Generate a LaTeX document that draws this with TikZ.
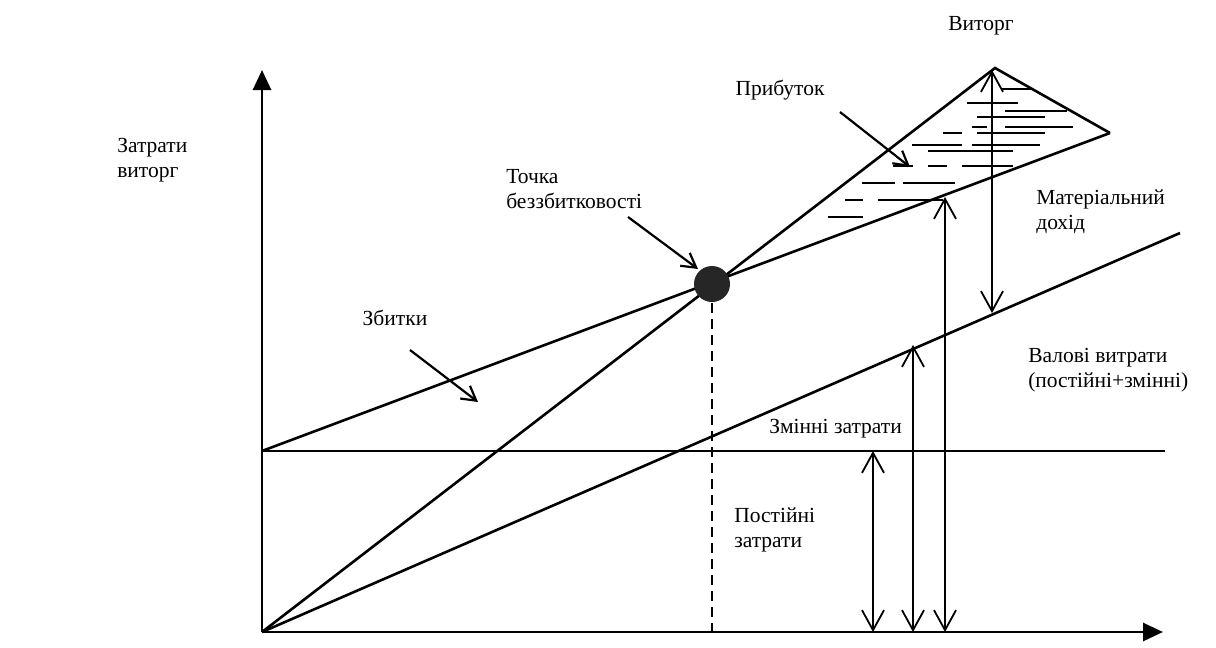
\documentclass[tikz,border=0pt]{standalone}
\usepackage{fontspec}
\setmainfont{Liberation Serif}
\usetikzlibrary{arrows.meta}

\begin{document}
\begin{tikzpicture}[x=1pt, y=-1pt, line width=2.6pt, font=\fontsize{21.5}{25}\selectfont,
    axisline/.style={line width=2.8pt, -{Triangle[length=20pt,width=18pt]}},
    dimarrow/.style={line width=1.8pt, {Straight Barb[length=20pt,width=22pt]}-{Straight Barb[length=20pt,width=22pt]}},
    pointer/.style={line width=2.2pt, -{Straight Barb[length=14pt,width=16pt]}},
    hatch/.style={line width=2pt},
    lbl/.style={align=left, inner sep=0pt}]
    \useasboundingbox (0,0) rectangle (1216,648);
    % points of the chart
    \coordinate (O) at (262,632);
    \coordinate (ytop) at (262,70);
    \coordinate (xend) at (1163,632);
    \coordinate (F) at (262,451);
    \coordinate (Fend) at (1165,451);
    \coordinate (B) at (712,284);
    \coordinate (apex) at (995,68);
    \coordinate (R) at (1110,133);
    \coordinate (V) at (1180,233);
    % hatching of the profit area
    \foreach \y/\a/\b in {89/1002/1033, 103/967/1018, 111/1005/1067, 117/977/1045,
            127/972/987, 127/1005/1073, 133/943/962, 133/977/1045, 145/912/962,
            145/972/1040, 151/928/1013, 166/893/913, 166/928/947, 166/962/1013,
            183/862/895, 183/903/955, 200/845/863, 200/878/943, 217/828/863} {
        \draw[hatch] (\a,\y) -- (\b,\y);
    }
    % axes
    \draw[axisline] (O) -- (ytop);
    \draw[axisline] (O) -- (xend);
    % lines
    \draw (F) -- (Fend);
    \draw (O) -- (apex) -- (R);
    \draw (F) -- (R);
    \draw (O) -- (V);
    \node[circle, fill=black!85, minimum size=36pt, inner sep=0pt] (bep) at (B) {};
    \draw[line width=2pt, dash pattern=on 10pt off 6pt] (bep) -- (bep |- O);
    % vertical spans
    \coordinate (p1) at (873,632); \coordinate (q1) at (873,451);
    \coordinate (p2) at (913,632); \coordinate (q2) at (913,345);
    \coordinate (p3) at (945,632); \coordinate (q3) at (945,197);
    \coordinate (p4) at (992,313); \coordinate (q4) at (992,70);
    \draw[dimarrow] (p1) -- (q1);
    \draw[dimarrow] (p2) -- (q2);
    \draw[dimarrow] (p3) -- (q3);
    \draw[dimarrow] (p4) -- (q4);
    % pointers
    \coordinate (loss0) at (410,350); \coordinate (loss1) at (478,402);
    \coordinate (bep0) at (628,217); \coordinate (bep1) at (698,269);
    \coordinate (gain0) at (840,112); \coordinate (gain1) at (910,167);
    \draw[pointer] (loss0) -- (loss1);
    \draw[pointer] (bep0) -- (bep1);
    \draw[pointer] (gain0) -- (gain1);
    % labels
    \node[lbl, anchor=west] (ylab) at (116,160) {Затрати\\виторг};
    \node[lbl, anchor=west] (beplab) at (505,189) {Точка\\беззбитковості};
    \node[lbl, anchor=west] (marglab) at (1035,212) {Матеріальний\\дохід};
    \node[lbl, anchor=west] (totlab) at (1027,370) {Валові витрати\\(постійні+змінні)};
    \node[lbl, anchor=west] (fixlab) at (733,530) {Постійні\\затрати};
    \node[lbl, anchor=west] (varlab) at (768,429) {Змінні затрати};
    \node[lbl] (losslab) at (395,318) {Збитки};
    \node[lbl] (gainlab) at (780,90) {Прибуток};
    \node[lbl] (revlab) at (981,26) {Виторг};
\end{tikzpicture}
\end{document}
